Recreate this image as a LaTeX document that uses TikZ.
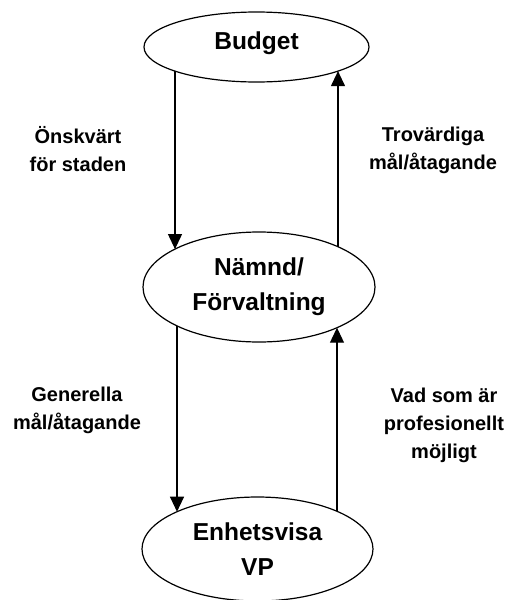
\documentclass[tikz,border=0pt]{standalone}
\usepackage{fontspec}
\setmainfont{Liberation Sans}
\usetikzlibrary{arrows.meta,shapes.geometric,calc}

\begin{document}
\begin{tikzpicture}[x=1pt,y=-1pt,
  stage/.style={draw=black, line width=1.2pt, ellipse, inner sep=0pt, outer sep=0pt,
    align=center, font=\fontsize{24.5}{35}\selectfont\bfseries},
  note/.style={align=center, inner sep=0pt, font=\fontsize{20}{28}\selectfont\bfseries},
  flow/.style={line width=1.1pt, -{Triangle[width=14pt,length=15pt]}}
]
  \useasboundingbox (0,0) rectangle (512,600);

  % the three levels
  \node[stage, minimum width=225pt, minimum height=70pt, text depth=12pt] (budget) at (256.5,47) {Budget};
  \node[stage, minimum width=232pt, minimum height=110pt] (namnd) at (259,287) {Nämnd/\\Förvaltning};
  \node[stage, minimum width=231pt, minimum height=104pt] (enhet) at (257.5,549) {Enhetsvisa\\VP};

  % downward and upward flows between the levels
  \draw[flow] ($(budget.center)+(-81.5,24.1)$) -- ($(namnd.center)+(-84,-37.9)$);
  \draw[flow] ($(namnd.center)+(79,-40.3)$) -- ($(budget.center)+(81.5,24.1)$);
  \draw[flow] ($(namnd.center)+(-82,38.9)$) -- ($(enhet.center)+(-80.5,-37.3)$);
  \draw[flow] ($(enhet.center)+(79.5,-37.7)$) -- ($(namnd.center)+(78,40.7)$);

  % flow labels
  \node[note] (l1) at (78,149) {Önskvärt\\för staden};
  \node[note] (l2) at (433,150) {Trovärdiga\\mål/åtagande};
  \node[note] (l3) at (77,410) {Generella\\mål/åtagande};
  \node[note] (l4) at (444,425) {Vad som är\\profesionellt\\möjligt};
\end{tikzpicture}
\end{document}
